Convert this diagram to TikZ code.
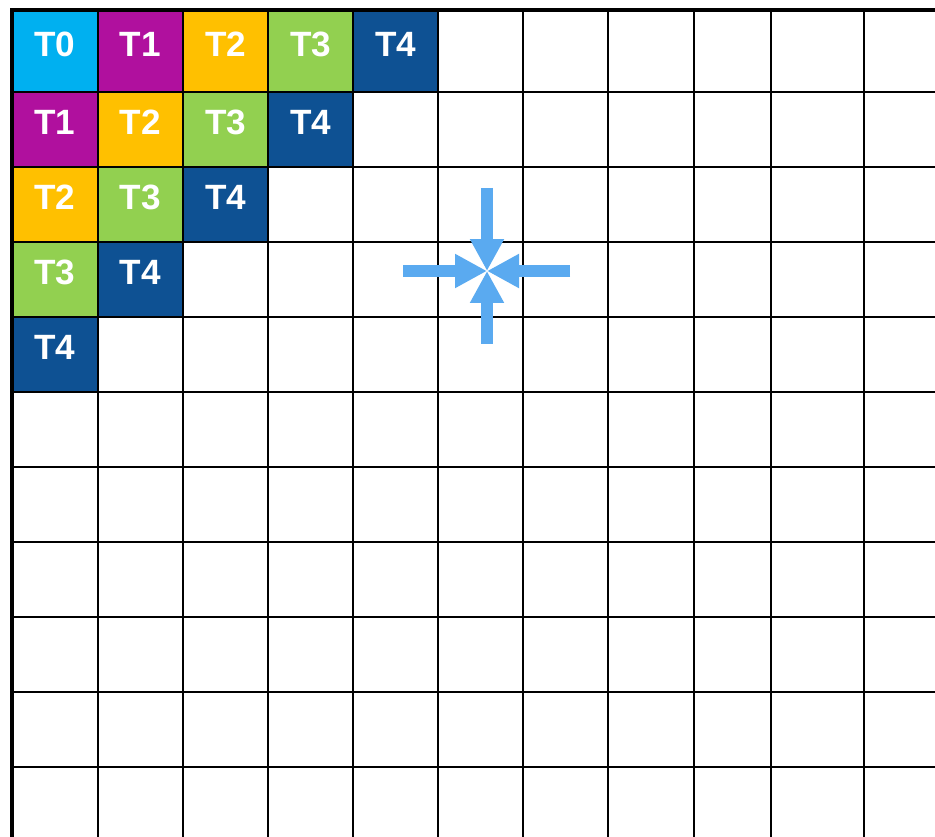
\documentclass[tikz,border=0pt]{standalone}
\usepackage{fontspec}
\setmainfont{Liberation Sans}
\usetikzlibrary{arrows.meta}
\definecolor{taskZero}{RGB}{0,176,240}
\definecolor{taskOne}{RGB}{176,16,158}
\definecolor{taskTwo}{RGB}{255,192,0}
\definecolor{taskThree}{RGB}{146,208,80}
\definecolor{taskFour}{RGB}{14,81,147}
\definecolor{hubBlue}{RGB}{90,170,240}

\begin{document}
\begin{tikzpicture}[x=0.02cm, y=-0.02cm,
    tlabel/.style={font=\bfseries\fontsize{20}{20}\selectfont, text=white, inner sep=0pt},
    gridline/.style={line width=1.1pt, black},
    borderline/.style={line width=2.4pt, black},
    hubarrow/.style={hubBlue, line width=6.3pt, -{Triangle[length=0.64cm, width=0.64cm]}}]
  \useasboundingbox (0,0) rectangle (935,837);
  \fill[white] (0,0) rectangle (935,837);
  \def\xs{{12,98,183,268,353,438,523,608,694,771,864,960}}
  \def\ys{{10,92,167,242,317,392,467,542,617,692,767,850}}
  \def\cols{{"taskZero","taskOne","taskTwo","taskThree","taskFour"}}
  % coloured task cells
  \foreach \r in {0,...,4} {
    \pgfmathtruncatemacro{\last}{4-\r}
    \foreach \c in {0,...,\last} {
      \pgfmathtruncatemacro{\k}{\r+\c}
      \pgfmathsetmacro{\xa}{\xs[\c]}
      \pgfmathsetmacro{\xb}{\xs[\c+1]}
      \pgfmathsetmacro{\ya}{\ys[\r]}
      \pgfmathsetmacro{\yb}{\ys[\r+1]}
      \pgfmathsetmacro{\col}{\cols[\k]}
      \fill[\col] (\xa,\ya) rectangle (\xb,\yb);
      \node[tlabel] (t\r\c) at ({(\xa+\xb)/2}, {(\ya+\yb)/2-7}) {T\k};
    }
  }
  % grid
  \foreach \i in {1,...,10} {
    \pgfmathsetmacro{\gx}{\xs[\i]}
    \pgfmathsetmacro{\gy}{\ys[\i]}
    \draw[gridline] (\gx,10) -- (\gx,837);
    \draw[gridline] (12,\gy) -- (935,\gy);
  }
  \draw[borderline] (12,837) -- (12,10) -- (935,10);
  % arrows pointing at the hub
  \coordinate (hub) at (487,271);
  \coordinate (north) at (487,188);
  \coordinate (south) at (487,344);
  \coordinate (west) at (403,271);
  \coordinate (east) at (570,271);
  \foreach \s in {north,south,west,east}
    \draw[hubarrow] (\s) -- (hub);
\end{tikzpicture}
\end{document}
